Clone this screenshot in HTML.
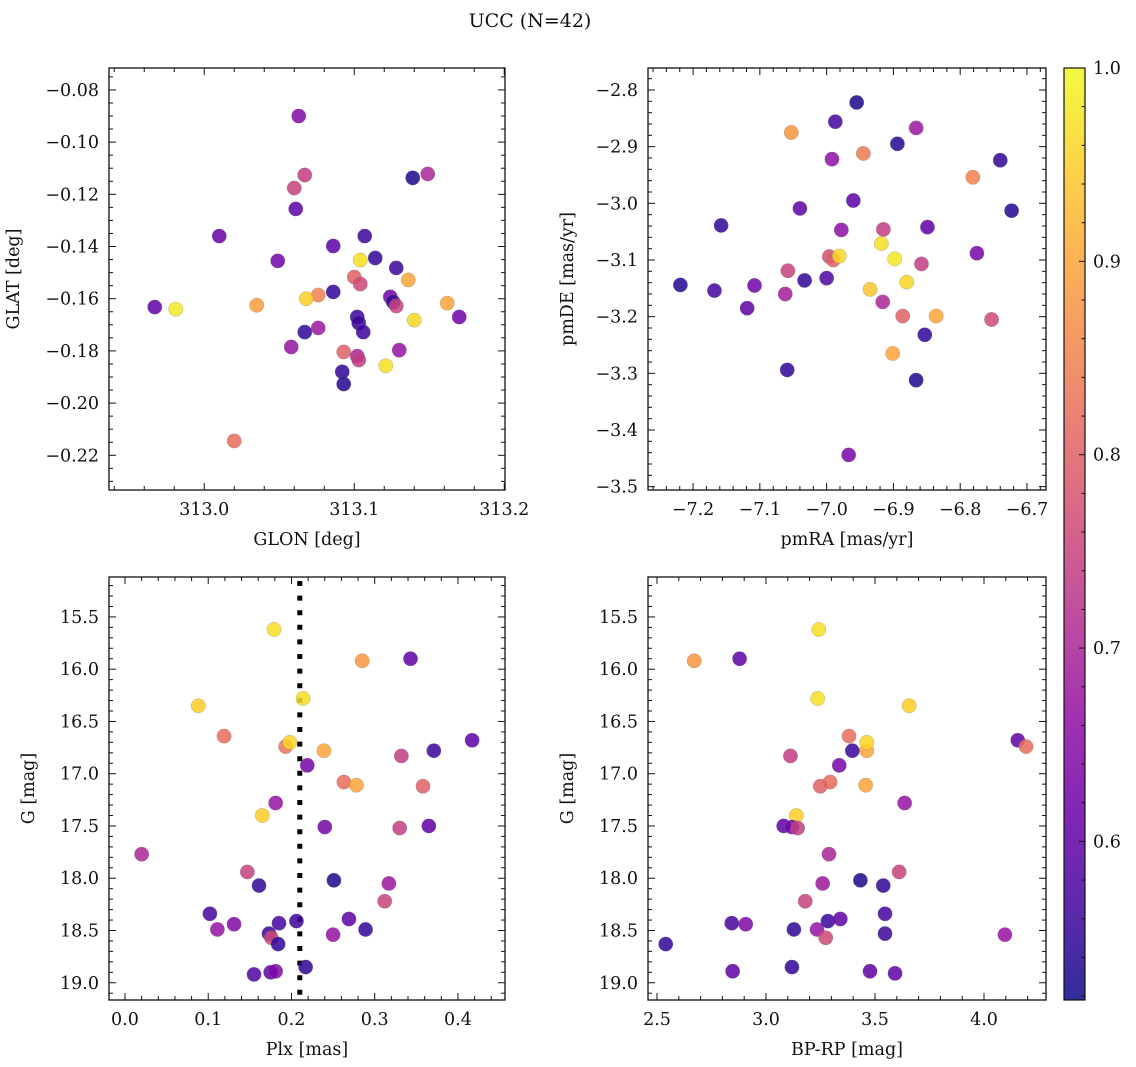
<!DOCTYPE html>
<html><head><meta charset="utf-8"><style>
html,body{margin:0;padding:0;background:#fff;width:1136px;height:1067px;overflow:hidden}
svg text{font-family:"DejaVu Serif","Liberation Serif",serif;fill:#111}
</style></head><body>
<svg id="fig" width="1136" height="1067" viewBox="0 0 1136 1067" xmlns="http://www.w3.org/2000/svg">
<defs><linearGradient id="cbg" x1="0" y1="1" x2="0" y2="0"></linearGradient></defs>
<text x="530" y="27" font-size="19" text-anchor="middle">UCC (N=42)</text>
</svg>
<script>
// ---- data: panel 1 (GLON vs GLAT)
const glonA=[313.063,313.067,313.060,313.061,313.139,313.149,313.010,313.086,313.107,313.049,313.104,313.114,313.128,313.100,313.104,313.136,313.086,313.076,313.068,313.124,313.126,313.128,312.967,312.981,313.035,313.162,313.170,313.140,313.102,313.103,313.106,313.067,313.076,313.058,313.093,313.102,313.103,313.130,313.121,313.092,313.093,313.020];
const glatA=[-0.090,-0.1126,-0.1176,-0.1256,-0.1137,-0.1122,-0.1360,-0.1398,-0.1360,-0.1455,-0.1452,-0.1444,-0.1482,-0.1517,-0.1544,-0.1528,-0.1574,-0.1586,-0.160,-0.1593,-0.1613,-0.1628,-0.1632,-0.164,-0.1625,-0.1617,-0.167,-0.1682,-0.167,-0.1693,-0.1728,-0.1728,-0.1712,-0.1785,-0.1804,-0.182,-0.1835,-0.1797,-0.1857,-0.188,-0.1927,-0.2145];
const probA=[0.64,0.74,0.75,0.6,0.53,0.7,0.61,0.6,0.56,0.62,0.97,0.55,0.56,0.8,0.76,0.9,0.55,0.85,0.95,0.62,0.56,0.75,0.6,0.98,0.89,0.9,0.62,0.96,0.56,0.56,0.56,0.55,0.68,0.67,0.8,0.7,0.74,0.67,0.97,0.55,0.54,0.82];
// ---- data: panel 2 (pmRA vs pmDE)
const pmraB=[-6.955,-6.987,-7.053,-6.866,-6.894,-6.992,-6.945,-6.740,-6.781,-6.960,-7.040,-6.723,-7.158,-6.978,-6.915,-6.849,-6.918,-6.996,-6.990,-6.981,-6.898,-6.775,-6.858,-7.058,-7.033,-7.000,-6.880,-7.219,-7.168,-7.108,-6.935,-7.062,-7.119,-6.916,-6.886,-6.836,-6.753,-6.853,-6.901,-7.059,-6.866,-6.967];
const pmdeB=[-2.822,-2.856,-2.875,-2.867,-2.895,-2.922,-2.912,-2.924,-2.954,-2.995,-3.009,-3.013,-3.039,-3.047,-3.046,-3.042,-3.071,-3.094,-3.100,-3.093,-3.098,-3.088,-3.107,-3.119,-3.136,-3.132,-3.139,-3.144,-3.154,-3.145,-3.152,-3.160,-3.185,-3.174,-3.199,-3.199,-3.205,-3.232,-3.265,-3.294,-3.312,-3.444];
const probB=[0.53,0.57,0.88,0.68,0.54,0.66,0.84,0.55,0.85,0.6,0.6,0.54,0.55,0.66,0.74,0.6,0.97,0.77,0.8,0.96,0.98,0.63,0.74,0.75,0.55,0.58,0.96,0.54,0.57,0.62,0.94,0.69,0.6,0.7,0.8,0.9,0.76,0.55,0.9,0.55,0.53,0.63];
// ---- data: panel 3 (Plx vs G)
const plxC=[0.179,0.285,0.343,0.214,0.088,0.119,0.193,0.198,0.239,0.417,0.371,0.332,0.219,0.263,0.278,0.358,0.181,0.165,0.240,0.330,0.365,0.020,0.147,0.161,0.251,0.317,0.312,0.102,0.111,0.131,0.185,0.206,0.269,0.289,0.250,0.173,0.176,0.184,0.217,0.155,0.175,0.181];
const gC=[15.62,15.92,15.90,16.28,16.35,16.64,16.74,16.70,16.78,16.68,16.78,16.83,16.92,17.08,17.11,17.12,17.28,17.40,17.51,17.52,17.50,17.77,17.94,18.07,18.02,18.05,18.22,18.34,18.49,18.44,18.43,18.41,18.39,18.49,18.54,18.53,18.57,18.63,18.85,18.92,18.90,18.89];
const probC=[0.97,0.88,0.6,0.97,0.95,0.82,0.83,0.96,0.9,0.6,0.56,0.74,0.63,0.82,0.9,0.8,0.67,0.95,0.63,0.74,0.6,0.7,0.75,0.55,0.53,0.68,0.75,0.57,0.67,0.64,0.57,0.56,0.6,0.55,0.67,0.56,0.76,0.55,0.55,0.58,0.6,0.64];
const plxLine=[0.21];
// ---- data: panel 4 (BP-RP vs G)
const bprpD=[3.242,2.671,2.879,3.237,3.657,3.381,3.462,3.462,4.155,4.193,3.396,3.112,3.336,3.294,3.457,3.249,3.636,3.139,3.081,3.119,3.145,3.289,3.611,3.538,3.433,3.260,3.180,3.546,3.234,2.907,2.843,3.284,3.341,3.128,4.096,3.546,3.274,2.540,3.119,2.847,3.477,3.592];
const gD=[15.62,15.92,15.90,16.28,16.35,16.64,16.78,16.70,16.68,16.74,16.78,16.83,16.92,17.08,17.11,17.12,17.28,17.40,17.50,17.51,17.52,17.77,17.94,18.07,18.02,18.05,18.22,18.34,18.49,18.44,18.43,18.41,18.39,18.49,18.54,18.53,18.57,18.63,18.85,18.89,18.89,18.91];
const probD=[0.97,0.88,0.6,0.97,0.95,0.82,0.9,0.96,0.6,0.82,0.56,0.74,0.63,0.82,0.9,0.8,0.67,0.95,0.6,0.63,0.74,0.7,0.75,0.55,0.53,0.68,0.75,0.57,0.67,0.64,0.57,0.56,0.6,0.55,0.67,0.56,0.76,0.55,0.55,0.6,0.6,0.6];
// ---- tick labels
const ticksA_x=[313.0,313.1,313.2], ticksA_y=[-0.08,-0.10,-0.12,-0.14,-0.16,-0.18,-0.20,-0.22];
const ticksB_x=[-7.2,-7.1,-7.0,-6.9,-6.8,-6.7], ticksB_y=[-2.8,-2.9,-3.0,-3.1,-3.2,-3.3,-3.4,-3.5];
const ticksC_x=[0.0,0.1,0.2,0.3,0.4], ticksG=[15.5,16.0,16.5,17.0,17.5,18.0,18.5,19.0];
const ticksD_x=[2.5,3.0,3.5,4.0];
const cbTicks=[0.6,0.7,0.8,0.9,1.0];
const cbMin=0.518, cbMax=1.0;

const NS="http://www.w3.org/2000/svg";
const svg=document.getElementById('fig');
const FS=17.5;
function mk(tag,attrs,parent){const e=document.createElementNS(NS,tag);for(const k in attrs)e.setAttribute(k,attrs[k]);(parent||svg).appendChild(e);return e;}
const plasma=[[13,8,135],[65,4,157],[106,0,168],[143,13,164],[177,42,144],[204,71,120],[225,100,98],[242,132,75],[252,166,54],[252,206,37],[240,249,33]];
function cmap(v){let t=(v-cbMin)/(cbMax-cbMin);t=Math.max(0,Math.min(1,t))*10;const i=Math.min(9,Math.floor(t)),f=t-i;const a=plasma[i],b=plasma[i+1];return 'rgb('+a.map((c,k)=>Math.round(c+(b[k]-c)*f)).join(',')+')';}
function fmt(v,d){return (v<0?'\u2212':'')+Math.abs(v).toFixed(d);}

function panel(o){
  const g=mk('g',{});
  
  
  const sx=v=>o.x0+(v-o.xmin)/(o.xmax-o.xmin)*(o.x1-o.x0);
  const sy=v=>o.yinv? o.y0+(v-o.ymin)/(o.ymax-o.ymin)*(o.y1-o.y0) : o.y1-(v-o.ymin)/(o.ymax-o.ymin)*(o.y1-o.y0);
  const tk=mk('g',{stroke:'#111','stroke-width':1},g);
  
  
  for(let v=Math.ceil(o.xmin/o.xminor-1e-6)*o.xminor; v<=o.xmax+1e-9; v+=o.xminor){const p=sx(v);const maj=Math.abs(v/o.xmajor-Math.round(v/o.xmajor))<1e-4;const L=maj?7:4;
    mk('line',{x1:p,x2:p,y1:o.y1,y2:o.y1-L},tk);mk('line',{x1:p,x2:p,y1:o.y0,y2:o.y0+L},tk);}
  for(let v=Math.ceil(o.ymin/o.yminor-1e-6)*o.yminor; v<=o.ymax+1e-9; v+=o.yminor){const p=sy(v);const maj=Math.abs(v/o.ymajor-Math.round(v/o.ymajor))<1e-4;const L=maj?7:4;
    mk('line',{y1:p,y2:p,x1:o.x0,x2:o.x0+L},tk);mk('line',{y1:p,y2:p,x1:o.x1,x2:o.x1-L},tk);}
  o.xt.forEach(v=>{const t=mk('text',{x:sx(v),y:o.y1+25,'font-size':FS,'text-anchor':'middle'},g);t.textContent=fmt(v,o.xd);
    });
  o.yt.forEach(v=>{const t=mk('text',{x:o.x0-10,y:sy(v)+6,'font-size':FS,'text-anchor':'end'},g);t.textContent=fmt(v,o.yd);
    });
  const xl=mk('text',{x:(o.x0+o.x1)/2,y:o.y1+55,'font-size':FS,'text-anchor':'middle'},g);xl.textContent=o.xlab;
  
  const yc=(o.y0+o.y1)/2, ylx=o.x0-o.ylOff;
  const yl=mk('text',{x:ylx,y:yc,'font-size':FS,'text-anchor':'middle',transform:'rotate(-90 '+ylx+' '+yc+')'},g);yl.textContent=o.ylab;
  
  if(o.vline){o.vline.forEach(v=>{const l=mk('line',{x1:sx(v),x2:sx(v),y1:o.y0+4,y2:o.y1,stroke:'#000','stroke-width':5,'stroke-dasharray':'5 9.6'},g);
    });}
  const pts=mk('g',{},g);
  
  o.xs.forEach((xv,i)=>{const c=mk('circle',{cx:sx(xv),cy:sy(o.ys[i]),r:7.2,fill:cmap(o.c[i]),'fill-opacity':0.85,stroke:'#777','stroke-opacity':0.5,'stroke-width':0.5},pts);
    });
  const fr=mk('rect',{x:o.x0,y:o.y0,width:o.x1-o.x0,height:o.y1-o.y0,fill:'none',stroke:'#111','stroke-width':1.3},g);
  
}
panel({name:'glon-glat-panel',x0:109,x1:505,y0:68,y1:490,xmin:312.9365,xmax:313.2005,ymin:-0.2333,ymax:-0.0716,xminor:0.02,xmajor:0.1,yminor:0.005,ymajor:0.02,xt:ticksA_x,yt:ticksA_y,xd:1,yd:2,xlab:'GLON [deg]',ylab:'GLAT [deg]',ylOff:90,xs:glonA,ys:glatA,c:probA});
panel({name:'pm-panel',x0:648,x1:1046,y0:68,y1:490,xmin:-7.2675,xmax:-6.6715,ymin:-3.5059,ymax:-2.7612,xminor:0.02,xmajor:0.1,yminor:0.02,ymajor:0.1,xt:ticksB_x,yt:ticksB_y,xd:1,yd:1,xlab:'pmRA [mas/yr]',ylab:'pmDE [mas/yr]',ylOff:75,xs:pmraB,ys:pmdeB,c:probB});
panel({name:'plx-g-panel',x0:109,x1:505,y0:577,y1:1000,xmin:-0.0192,xmax:0.4565,ymin:15.118,ymax:19.165,yinv:true,xminor:0.02,xmajor:0.1,yminor:0.1,ymajor:0.5,xt:ticksC_x,yt:ticksG,xd:1,yd:1,xlab:'Plx [mas]',ylab:'G [mag]',ylOff:75,xs:plxC,ys:gC,c:probC,vline:plxLine});
panel({name:'color-g-panel',x0:648,x1:1046,y0:577,y1:1000,xmin:2.4587,xmax:4.2844,ymin:15.118,ymax:19.165,yinv:true,xminor:0.1,xmajor:0.5,yminor:0.1,ymajor:0.5,xt:ticksD_x,yt:ticksG,xd:1,yd:1,xlab:'BP-RP [mag]',ylab:'G [mag]',ylOff:75,xs:bprpD,ys:gD,c:probD});

// colorbar
const grad=document.getElementById('cbg');
for(let k=0;k<=20;k++){const v=cbMin+(cbMax-cbMin)*k/20;mk('stop',{offset:(k/20),'stop-color':cmap(v)},grad);}
const cbx0=1064,cbx1=1085,cby0=68,cby1=1000;
const cb=mk('g',{});

mk('rect',{x:cbx0,y:cby0,width:cbx1-cbx0,height:cby1-cby0,fill:'url(#cbg)','fill-opacity':0.85},cb);
const csy=v=>cby1-(v-cbMin)/(cbMax-cbMin)*(cby1-cby0);
for(let v=0.52;v<=1.0001;v+=0.02){const p=csy(v);const maj=Math.abs(v*10-Math.round(v*10))<1e-4;mk('line',{x1:cbx1,x2:cbx1-(maj?6:3.5),y1:p,y2:p,stroke:'#111','stroke-width':1},cb);}
cbTicks.forEach(v=>{const t=mk('text',{x:cbx1+8,y:csy(v)+6,'font-size':FS},cb);t.textContent=v.toFixed(1);
  });
mk('rect',{x:cbx0,y:cby0,width:cbx1-cbx0,height:cby1-cby0,fill:'none',stroke:'#111','stroke-width':1.2},cb);
</script>
</body></html>
